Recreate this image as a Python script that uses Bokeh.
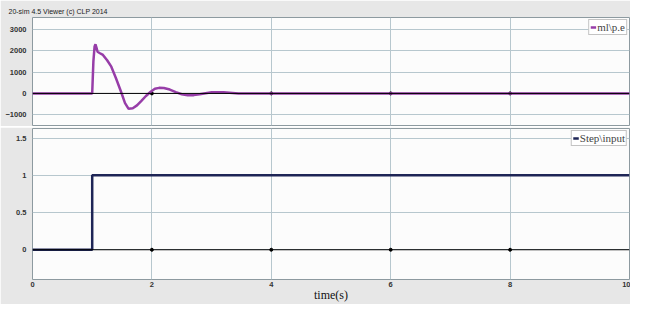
from bokeh.plotting import figure
from bokeh.models import Range1d, FixedTicker, Span
from bokeh.layouts import column
from bokeh.embed import file_html
from bokeh.resources import INLINE

# ---- data ----
x_ticks = [0, 2, 4, 6, 8, 10]
top_yticks = [-1000, 0, 1000, 2000, 3000]
bottom_yticks = [0, 0.5, 1, 1.5]

pe_t = [0, 1.0, 1.02, 1.04, 1.055, 1.07, 1.09, 1.13, 1.18, 1.25, 1.32, 1.40, 1.48,
        1.55, 1.61, 1.68, 1.75, 1.82, 1.90, 1.98, 2.05, 2.12, 2.2, 2.3, 2.4, 2.5,
        2.6, 2.7, 2.8, 2.9, 3.0, 3.1, 3.2, 3.3, 3.45, 10]
pe_v = [0, 0, 1500, 2200, 2300, 2150, 1950, 1880, 1800, 1550, 1250, 700, 100,
        -450, -720, -690, -560, -360, -120, 80, 220, 260, 250, 180, 60, -40,
        -90, -80, -40, 10, 50, 60, 50, 30, 0, 0]

step_t = [0, 1, 1, 10]
step_v = [0, 0, 1, 1]

PANEL = "#e7e7e7"
PLOTBG = "#fcfcfc"
GRID = "#b7c7ce"
FRAME = "#8d9aa0"
TICKFONT = "Liberation Sans"
SERIF = "Liberation Serif"


def style(p, yticks):
    p.background_fill_color = PLOTBG
    p.border_fill_color = PANEL
    p.outline_line_color = FRAME
    p.outline_line_width = 1
    p.xgrid.ticker = FixedTicker(ticks=x_ticks[1:-1])
    p.ygrid.ticker = FixedTicker(ticks=yticks)
    p.xgrid.grid_line_color = GRID
    p.ygrid.grid_line_color = GRID
    p.yaxis.ticker = FixedTicker(ticks=yticks)
    for ax in (p.xaxis[0], p.yaxis[0]):
        ax.axis_line_color = None
        ax.major_tick_line_color = None
        ax.minor_tick_line_color = None
        ax.major_tick_out = 0
        ax.major_tick_in = 0
        ax.minor_tick_out = 0
        ax.minor_tick_in = 0
        ax.major_label_text_font = TICKFONT
        ax.major_label_text_font_size = "7.5px"
        ax.major_label_text_font_style = "bold"
        ax.major_label_text_color = "#333333"
    p.yaxis.major_label_standoff = 6
    p.add_layout(Span(location=0, dimension="width", line_color="black", line_width=1))
    p.scatter(x=x_ticks[1:-1], y=[0] * len(x_ticks[1:-1]), size=3, color="black")


top = figure(width=630, height=126, output_backend="svg", toolbar_location=None,
             x_range=Range1d(0, 10), y_range=Range1d(-1500, 3550),
             min_border_left=32, min_border_right=1, min_border_top=17, min_border_bottom=1)
style(top, top_yticks)
top.xaxis.visible = False
top.line(pe_t, pe_v, line_color="#973da8", line_width=2.5, legend_label="ml\\p.e")
top.title.text = "20-sim 4.5 Viewer (c) CLP 2014"
top.title.text_font = TICKFONT
top.title.text_font_size = "7px"
top.title.text_font_style = "normal"
top.title.text_color = "#222222"
top.title.align = "left"
top.title.offset = -24
top.title.standoff = 5

bot = figure(width=630, height=177, output_backend="svg", toolbar_location=None,
             x_range=Range1d(0, 10), y_range=Range1d(-0.4, 1.63),
             min_border_left=32, min_border_right=1, min_border_top=1, min_border_bottom=0)
style(bot, bottom_yticks)
bot.xaxis.ticker = FixedTicker(ticks=x_ticks)
bot.yaxis.major_label_overrides = {0: "0", 0.5: "0.5", 1: "1", 1.5: "1.5"}
bot.xaxis.major_label_standoff = 2
bot.xaxis.axis_label = "time(s)"
bot.xaxis.axis_label_text_font = SERIF
bot.xaxis.axis_label_text_font_size = "12px"
bot.xaxis.axis_label_text_font_style = "normal"
bot.xaxis.axis_label_text_color = "#111111"
bot.xaxis.axis_label_standoff = -2
bot.line(step_t, step_v, line_color="#1e2556", line_width=2.5, legend_label="Step\\input")

for p in (top, bot):
    lg = p.legend[0]
    lg.location = "top_right"
    lg.label_text_font = SERIF
    lg.label_text_font_size = "11px"
    lg.label_height = 10
    lg.glyph_height = 6
    lg.glyph_width = 6
    lg.padding = 1
    lg.spacing = 0
    lg.margin = 2
    lg.label_standoff = 1
    lg.border_line_color = "#888888"
    lg.background_fill_color = "white"
    lg.background_fill_alpha = 1

layout = column(top, bot, spacing=1)
open("out.html", "w").write(file_html(layout, INLINE))
